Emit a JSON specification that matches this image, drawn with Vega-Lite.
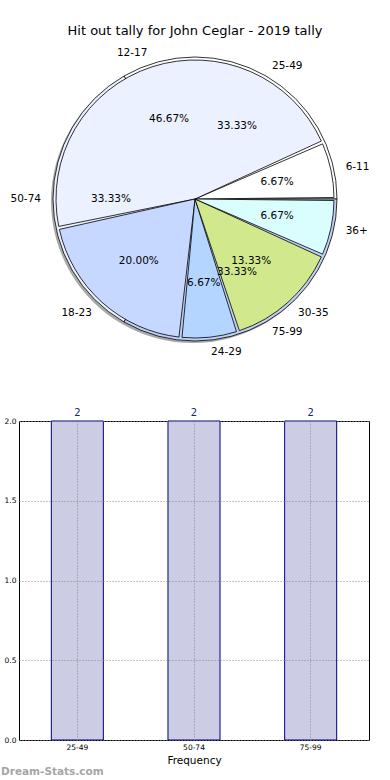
{
  "$schema": "https://vega.github.io/schema/vega-lite/v6.json",
  "padding": {"left": 0, "top": 24, "right": 0, "bottom": 0},
  "background": "white",
  "spacing": 49,
  "config": {"font": "DejaVu Sans", "view": {"stroke": null}},
  "datasets": {
    "ages": [
      {"range": "6-11", "n": 1, "k": 1, "pct": "6.67%"},
      {"range": "12-17", "n": 7, "k": 2, "pct": "46.67%"},
      {"range": "18-23", "n": 3, "k": 3, "pct": "20.00%"},
      {"range": "24-29", "n": 1, "k": 4, "pct": "6.67%"},
      {"range": "30-35", "n": 2, "k": 5, "pct": "13.33%"},
      {"range": "36+", "n": 1, "k": 6, "pct": "6.67%"}
    ],
    "scores": [
      {"range": "25-49", "n": 2, "k": 1, "pct": "33.33%"},
      {"range": "50-74", "n": 2, "k": 2, "pct": "33.33%"},
      {"range": "75-99", "n": 2, "k": 3, "pct": "33.33%"}
    ]
  },
  "vconcat": [
    {
      "width": 352,
      "height": 302,
      "title": {"text": "Hit out tally for John Ceglar - 2019 tally", "fontSize": 13, "fontWeight": "normal", "font": "DejaVu Sans", "color": "black", "anchor": "middle", "offset": 10},
      "layer": [
        {
          "data": {"name": "scores"},
          "mark": {"type": "arc", "outerRadius": 142, "fill": "#707070", "opacity": 0.6, "xOffset": -2, "yOffset": 2},
          "encoding": {
            "theta": {"field": "n", "type": "quantitative", "stack": "normalize", "scale": {"domain": [0, 1], "range": [1.5707963268, -4.7123889804]}},
            "order": {"field": "k", "type": "quantitative"},
            "detail": {"field": "range"}
          }
        },
        {
          "data": {"name": "scores"},
          "mark": {"type": "arc", "outerRadius": 142, "stroke": "black", "strokeWidth": 0.8},
          "encoding": {
            "theta": {"field": "n", "type": "quantitative", "stack": "normalize", "scale": {"domain": [0, 1], "range": [1.5707963268, -4.7123889804]}},
            "order": {"field": "k", "type": "quantitative"},
            "color": {"field": "range", "type": "nominal", "legend": null, "scale": {"domain": ["6-11", "12-17", "18-23", "24-29", "30-35", "36+", "25-49", "50-74", "75-99"], "range": ["#ffffff", "#ebf1fe", "#c6d8ff", "#b4d5ff", "#d1e98c", "#dafefe", "#ffffff", "#ebf1fe", "#c0d0f4"]}}
          }
        },
        {
          "data": {"name": "ages"},
          "mark": {"type": "arc", "outerRadius": 139, "padAngle": 0.022, "stroke": "black", "strokeWidth": 0.8},
          "encoding": {
            "theta": {"field": "n", "type": "quantitative", "stack": "normalize", "scale": {"domain": [0, 1], "range": [1.5707963268, -4.7123889804]}},
            "order": {"field": "k", "type": "quantitative"},
            "color": {"field": "range", "type": "nominal", "legend": null, "scale": {"domain": ["6-11", "12-17", "18-23", "24-29", "30-35", "36+", "25-49", "50-74", "75-99"], "range": ["#ffffff", "#ebf1fe", "#c6d8ff", "#b4d5ff", "#d1e98c", "#dafefe", "#ffffff", "#ebf1fe", "#c0d0f4"]}}
          }
        },
        {
          "data": {"name": "ages"},
          "mark": {"type": "text", "radius": 84, "fontSize": 10.5, "color": "black", "baseline": "middle"},
          "encoding": {
            "theta": {"field": "n", "type": "quantitative", "stack": "normalize", "scale": {"domain": [0, 1], "range": [1.5707963268, -4.7123889804]}},
            "order": {"field": "k", "type": "quantitative"},
            "detail": {"field": "range"},
            "text": {"field": "pct"}
          }
        },
        {
          "data": {"name": "scores"},
          "mark": {"type": "text", "radius": 84, "fontSize": 10.5, "color": "black", "baseline": "middle"},
          "encoding": {
            "theta": {"field": "n", "type": "quantitative", "stack": "normalize", "scale": {"domain": [0, 1], "range": [1.5707963268, -4.7123889804]}},
            "order": {"field": "k", "type": "quantitative"},
            "detail": {"field": "range"},
            "text": {"field": "pct"}
          }
        },
        {
          "data": {"name": "ages"},
          "mark": {"type": "text", "radius": 154, "fontSize": 10.5, "color": "black", "align": "left", "baseline": "middle"},
          "encoding": {
            "theta": {"field": "n", "type": "quantitative", "stack": "normalize", "scale": {"domain": [0, 1], "range": [1.5707963268, -4.7123889804]}},
            "order": {"field": "k", "type": "quantitative"},
            "detail": {"field": "range"},
            "text": {"field": "range"},
            "opacity": {"condition": {"test": "datum.range !== '12-17' && datum.range !== '18-23'", "value": 1}, "value": 0}
          }
        },
        {
          "data": {"name": "ages"},
          "mark": {"type": "text", "radius": 154, "fontSize": 10.5, "color": "black", "align": "right", "baseline": "middle"},
          "encoding": {
            "theta": {"field": "n", "type": "quantitative", "stack": "normalize", "scale": {"domain": [0, 1], "range": [1.5707963268, -4.7123889804]}},
            "order": {"field": "k", "type": "quantitative"},
            "detail": {"field": "range"},
            "text": {"field": "range"},
            "opacity": {"condition": {"test": "datum.range === '12-17' || datum.range === '18-23'", "value": 1}, "value": 0}
          }
        },
        {
          "data": {"name": "scores"},
          "mark": {"type": "text", "radius": 154, "fontSize": 10.5, "color": "black", "align": "left", "baseline": "middle"},
          "encoding": {
            "theta": {"field": "n", "type": "quantitative", "stack": "normalize", "scale": {"domain": [0, 1], "range": [1.5707963268, -4.7123889804]}},
            "order": {"field": "k", "type": "quantitative"},
            "detail": {"field": "range"},
            "text": {"field": "range"},
            "opacity": {"condition": {"test": "datum.range !== '50-74'", "value": 1}, "value": 0}
          }
        },
        {
          "data": {"name": "scores"},
          "mark": {"type": "text", "radius": 154, "fontSize": 10.5, "color": "black", "align": "right", "baseline": "middle"},
          "encoding": {
            "theta": {"field": "n", "type": "quantitative", "stack": "normalize", "scale": {"domain": [0, 1], "range": [1.5707963268, -4.7123889804]}},
            "order": {"field": "k", "type": "quantitative"},
            "detail": {"field": "range"},
            "text": {"field": "range"},
            "opacity": {"condition": {"test": "datum.range === '50-74'", "value": 1}, "value": 0}
          }
        }
      ]
    },
    {
      "width": 350,
      "height": 319,
      "view": {"stroke": "black", "strokeWidth": 1},
      "data": {"name": "scores"},
      "title": {"text": "Dream-Stats.com", "orient": "bottom", "anchor": "start", "frame": "bounds", "fontSize": 10.5, "fontWeight": "bold", "color": "#a6a6a6", "offset": 1},
      "encoding": {
        "x": {"field": "range", "type": "nominal", "scale": {"paddingInner": 0.554, "paddingOuter": 0.277},
          "axis": {"title": "Frequency", "labelAngle": 0, "labelFontSize": 7.5, "labelColor": "black", "titleFontSize": 10.5, "titleFontWeight": "normal", "titleColor": "black", "grid": true, "gridDash": [1, 2], "gridColor": "#888888", "bandPosition": 0.5, "ticks": false, "domain": false, "labelPadding": 3, "titlePadding": 5, "zindex": 1}},
        "y": {"field": "n", "type": "quantitative", "scale": {"domain": [0, 2], "nice": false},
          "axis": {"title": null, "values": [0, 0.5, 1, 1.5, 2], "format": ".1f", "labelFontSize": 7.5, "labelColor": "black", "grid": true, "gridDash": [1, 2], "gridColor": "#888888", "ticks": false, "domain": false, "zindex": 1, "minExtent": 18, "maxExtent": 18, "labelPadding": 3}}
      },
      "layer": [
        {"mark": {"type": "bar", "fill": "#cccce4", "stroke": "#000080", "strokeWidth": 1}},
        {"mark": {"type": "text", "baseline": "bottom", "dy": -3, "fontSize": 10, "color": "#1f1f70"}, "encoding": {"text": {"field": "n"}}}
      ]
    }
  ]
}
